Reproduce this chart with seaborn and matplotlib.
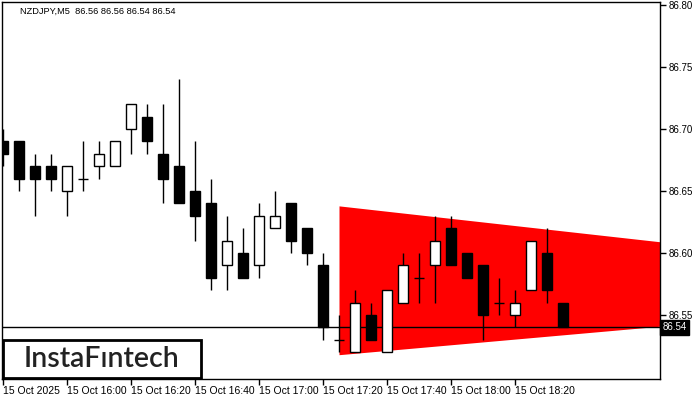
import matplotlib
matplotlib.use("Agg")
import matplotlib.pyplot as plt
import matplotlib.patches as patches
import seaborn as sns

# NZDJPY M5 candles
opens  = [86.69, 86.69, 86.67, 86.67, 86.65, 86.66, 86.67, 86.67, 86.70, 86.71,
          86.68, 86.67, 86.65, 86.64, 86.59, 86.60, 86.59, 86.62, 86.64, 86.62,
          86.59, 86.53, 86.52, 86.55, 86.52, 86.56, 86.58, 86.59, 86.62, 86.60,
          86.59, 86.56, 86.55, 86.57, 86.60, 86.56]
highs  = [86.70, 86.69, 86.68, 86.68, 86.67, 86.69, 86.69, 86.69, 86.72, 86.72,
          86.72, 86.74, 86.69, 86.66, 86.63, 86.62, 86.64, 86.65, 86.64, 86.62,
          86.60, 86.55, 86.57, 86.56, 86.57, 86.60, 86.60, 86.63, 86.63, 86.60,
          86.59, 86.58, 86.57, 86.61, 86.62, 86.56]
lows   = [86.67, 86.65, 86.63, 86.65, 86.63, 86.65, 86.66, 86.67, 86.68, 86.68,
          86.64, 86.64, 86.61, 86.57, 86.57, 86.58, 86.58, 86.62, 86.60, 86.59,
          86.53, 86.52, 86.52, 86.53, 86.52, 86.56, 86.56, 86.56, 86.59, 86.58,
          86.53, 86.55, 86.54, 86.57, 86.56, 86.54]
closes = [86.68, 86.66, 86.66, 86.66, 86.67, 86.66, 86.68, 86.69, 86.72, 86.69,
          86.66, 86.64, 86.63, 86.58, 86.61, 86.58, 86.63, 86.63, 86.61, 86.60,
          86.54, 86.53, 86.56, 86.53, 86.57, 86.59, 86.58, 86.61, 86.59, 86.58,
          86.55, 86.56, 86.56, 86.61, 86.57, 86.54]

tick_idx = [0, 4, 8, 12, 16, 20, 24, 28, 32]
tick_labels = ["15 Oct 2025", "15 Oct 16:00", "15 Oct 16:20", "15 Oct 16:40",
               "15 Oct 17:00", "15 Oct 17:20", "15 Oct 17:40", "15 Oct 18:00",
               "15 Oct 18:20"]
price_ticks = [86.55, 86.60, 86.65, 86.70, 86.75, 86.80]
last_price = 86.54

# symmetrical triangle pattern
pattern_x = [21, 41.1]
pattern_upper = [86.638, 86.609]
pattern_lower = [86.518, 86.541]

sns.set_theme(style="white")
plt.rcParams['font.family'] = ['Liberation Sans', 'DejaVu Sans']

fig = plt.figure(figsize=(7, 4), dpi=100)
ax = fig.add_axes([2/700, 21/400, 658/700, 377/400])

ax.fill_between(pattern_x, pattern_lower, pattern_upper, color="#ff0000", lw=0, zorder=1)
ax.axhline(last_price, color="black", lw=1, zorder=2)

w = 0.62
for i, (o, h, l, c) in enumerate(zip(opens, highs, lows, closes)):
    top, bot = max(o, c), min(o, c)
    ax.vlines(i, l, h, color="black", lw=1, zorder=3)
    if o == c:
        ax.hlines(o, i - w/2, i + w/2, color="black", lw=1, zorder=4)
    else:
        face = "white" if c > o else "black"
        ax.bar(i, top - bot, bottom=bot, width=w, color=face,
               edgecolor="black", lw=1, zorder=4)

ax.set_xlim(-0.06, 41.06)
ax.set_ylim(86.4984, 86.8024)

for s in ax.spines.values():
    s.set_color("black")
    s.set_linewidth(1)

ax.yaxis.tick_right()
ax.set_yticks(price_ticks)
ax.set_yticklabels([f"{p:.2f}" for p in price_ticks])
ax.set_xticks(tick_idx)
ax.set_xticklabels(tick_labels, ha="left")
ax.tick_params(axis="both", direction="out", length=4, width=1, color="black",
               labelcolor="black", pad=2)
ax.tick_params(axis="x", bottom=True, pad=1, labelsize=7.5)
ax.tick_params(axis="y", right=True, left=False, labelsize=7)

ax.text(1.004, last_price, f"{last_price:.2f}", transform=ax.get_yaxis_transform(),
        ha="left", va="center", color="white", fontsize=7,
        bbox=dict(boxstyle="square,pad=0.25", fc="black", ec="black"))

ax.text(18/658, 1 - 9/377, "NZDJPY,M5  86.56 86.56 86.54 86.54", transform=ax.transAxes,
        ha="left", va="center", fontsize=6.7, color="black")

# logo
fig.patches.append(patches.Rectangle((3/700, 22/400), 198/700, 38/400,
                                     transform=fig.transFigure, fc="white",
                                     ec="black", lw=2, zorder=10))
fig.text(102/700, 41/400, "InstaF\u0131ntech", ha="center", va="center",
         fontsize=20.5, color="#222222", family="Lato", weight="semibold", zorder=11)

plt.savefig("out.png", dpi=100)
